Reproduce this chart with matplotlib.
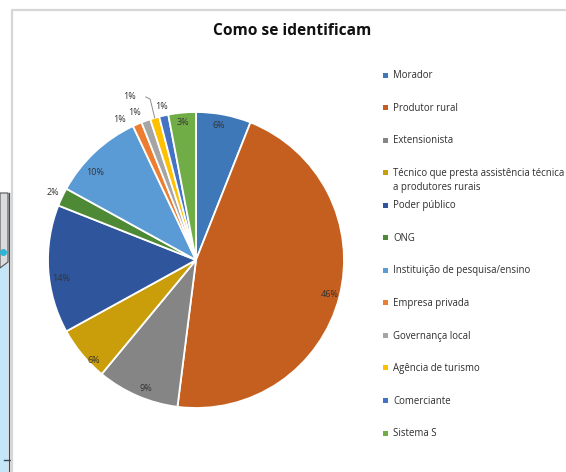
import matplotlib.pyplot as plt
from matplotlib.patches import Rectangle, Polygon
import numpy as np

categorias = ["Morador", "Produtor rural", "Extensionista",
              "Técnico que presta assistência técnica\na produtores rurais",
              "Poder público", "ONG", "Instituição de pesquisa/ensino",
              "Empresa privada", "Governança local", "Agência de turismo",
              "Comerciante", "Sistema S"]
percentuais = [6, 46, 9, 6, 14, 2, 10, 1, 1, 1, 1, 3]
cores = ["#3F78B8", "#C55F1F", "#858585", "#C99E0A", "#2F559C", "#4E8A35",
         "#5B9BD5", "#ED7D31", "#A5A5A5", "#FFC000", "#4472C4", "#70AD47"]

# distancia do rotulo ao centro (em raios) e ajuste de angulo em graus
dist_rotulo = [0.92, 0.93, 0.93, 0.97, 0.92, 1.07, 0.90, 1.08, 1.08, 1.19, 1.06, 0.93]
ajuste_ang = [1, 0, 2, 5, 4, 0, 6, 5, 3, 6, 0, 0]

W, H = 566, 472
fig = plt.figure(figsize=(W / 100, H / 100), dpi=100)
fig.patch.set_facecolor("white")
plt.rcParams['font.family'] = ['Open Sans', 'DejaVu Sans']

# restos da janela ao fundo, na margem esquerda
fig.patches.append(Rectangle((0, 0), 8 / W, (H - 193) / H, transform=fig.transFigure,
                             facecolor="#C4E6F8", edgecolor="none", zorder=0))
fig.patches.append(Polygon([(0, (H - 193) / H), (8 / W, (H - 193) / H), (8 / W, (H - 262) / H),
                            (0, (H - 268) / H)], closed=True, transform=fig.transFigure,
                           facecolor="#DCDCDC", edgecolor="#555555", lw=0.8, zorder=0))
fig.lines.append(plt.Line2D([8.5 / W, 8.5 / W], [0, (H - 193) / H], transform=fig.transFigure,
                            color="#3A4A5A", lw=1.0))
fig.lines.append(plt.Line2D([3 / W], [(H - 252) / H], transform=fig.transFigure,
                            marker="o", ms=4, color="#2BB5D8", lw=0))
fig.lines.append(plt.Line2D([4 / W, 10 / W], [(H - 460) / H, (H - 460) / H],
                            transform=fig.transFigure, color="#3A4A5A", lw=1.0))
# moldura do grafico
fig.lines.append(plt.Line2D([12 / W, 12 / W, 1], [0, (H - 10) / H, (H - 10) / H],
                            transform=fig.transFigure, color="#D6D6D6", lw=1.6))

fig.text(292 / W, 1 - 31 / H, "Como se identificam", ha="center", va="center",
         fontsize=11.2, fontweight="bold", color="#111111")

# pizza: centro (196, 260) px, raio 148 px
cx, cy, r = 196, 260, 148
ax = fig.add_axes([(cx - r) / W, (H - cy - r) / H, 2 * r / W, 2 * r / H])
wedges, _ = ax.pie(percentuais, colors=cores, startangle=90, counterclock=False,
                   wedgeprops=dict(edgecolor="white", linewidth=1.3))
ax.set_xlim(-1, 1)
ax.set_ylim(-1, 1)
ax.set_aspect("equal")
ax.axis("off")

for w, p, d, a in zip(wedges, percentuais, dist_rotulo, ajuste_ang):
    ang = np.deg2rad((w.theta1 + w.theta2) / 2 + a)
    x, y = d * np.cos(ang), d * np.sin(ang)
    ax.text(x, y, f"{p}%", ha="center", va="center", fontsize=6.5,
            color="#333333", clip_on=False)
    if d > 1.15:
        # linha guia do rotulo externo
        ang0 = np.deg2rad((w.theta1 + w.theta2) / 2)
        ax.plot([x + 0.11, x + 0.14, np.cos(ang0)], [y, y - 0.015, np.sin(ang0)],
                color="#8C8C8C", lw=0.7, clip_on=False)

# legenda: quadrado alinhado com a primeira linha do texto
for i, (nome, cor) in enumerate(zip(categorias, cores)):
    y = 75 + i * 32.55
    fig.patches.append(Rectangle((383 / W, 1 - (y + 2.5) / H), 5 / W, 5 / H,
                                 transform=fig.transFigure, facecolor=cor,
                                 edgecolor="none"))
    for k, linha in enumerate(nome.split("\n")):
        fig.text(393 / W, 1 - (y + 3.2 + 14 * k) / H, linha, ha="left",
                 va="baseline", fontsize=6.9, color="#2E2E2E")

fig.savefig("out.png", dpi=100)
